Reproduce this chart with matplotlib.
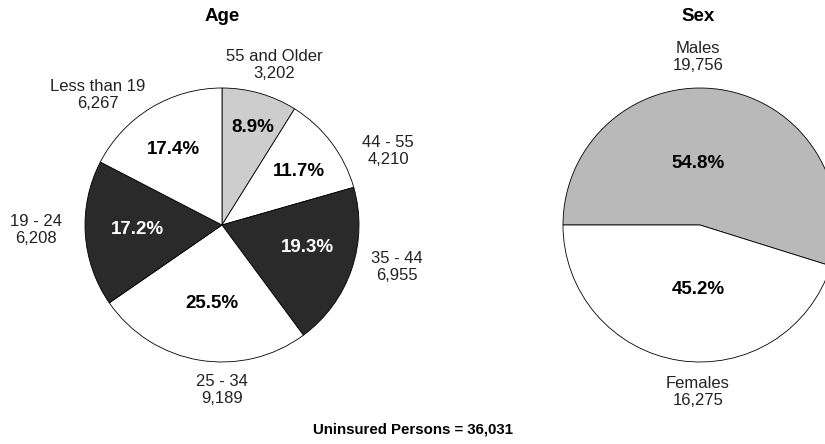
import matplotlib
matplotlib.use("Agg")
import matplotlib.pyplot as plt

plt.rcParams["font.family"] = ["Liberation Sans", "DejaVu Sans"]

W, H = 825, 444

age_groups = ["55 and Older", "44 - 55", "35 - 44", "25 - 34", "19 - 24", "Less than 19"]
age_counts = [3202, 4210, 6955, 9189, 6208, 6267]

sex_groups = ["Males", "Females"]
sex_counts = [19756, 16275]

total_uninsured = 36031

# layout (pixel positions, y measured from top)
AGE_CENTER = (222, 225)
SEX_CENTER = (700, 225)
RADIUS = 137

age_colors = ["#cdcdcd", "white", "#2a2a2a", "white", "#2a2a2a", "white"]
age_pct_colors = ["black", "black", "white", "black", "white", "black"]
age_label_pos = [(274, 65), (388, 151), (397, 267), (222, 390), (36, 230), (98, 95)]
age_pct_pos = [(253, 128), (299, 172), (307, 248), (212, 304), (137, 229), (173, 149)]

sex_colors = ["#b9b9b9", "white"]
sex_label_pos = [(698, 57), (698, 392)]
sex_pct_pos = [(698, 163), (698, 290)]


def px(x, y):
    return x, H - y


fig = plt.figure(figsize=(W / 100, H / 100), dpi=100)
ax = fig.add_axes([0, 0, 1, 1])

wedge_style = {"edgecolor": "black", "linewidth": 0.6}
ax.pie(age_counts, colors=age_colors, startangle=90, counterclock=False,
       center=px(*AGE_CENTER), radius=RADIUS, wedgeprops=wedge_style, frame=True)
ax.pie(sex_counts, colors=sex_colors, startangle=180, counterclock=False,
       center=px(*SEX_CENTER), radius=RADIUS, wedgeprops=wedge_style, frame=True)

ax.set_aspect("auto")
ax.set_xlim(0, W)
ax.set_ylim(0, H)
ax.axis("off")

label_kw = dict(ha="center", va="center", fontsize=12, linespacing=1.22, color="#222222")
pct_kw = dict(ha="center", va="center", fontsize=13.5, fontweight="bold")

age_total = sum(age_counts)
for name, n, lpos, ppos, pc in zip(age_groups, age_counts, age_label_pos,
                                   age_pct_pos, age_pct_colors):
    ax.text(*px(*lpos), f"{name}\n{n:,}", **label_kw)
    ax.text(*px(*ppos), f"{n / age_total * 100:.1f}%", color=pc, **pct_kw)

sex_total = sum(sex_counts)
for name, n, lpos, ppos in zip(sex_groups, sex_counts, sex_label_pos, sex_pct_pos):
    ax.text(*px(*lpos), f"{name}\n{n:,}", **label_kw)
    ax.text(*px(*ppos), f"{n / sex_total * 100:.1f}%", color="black", **pct_kw)

ax.text(*px(222, 17), "Age", ha="center", va="center", fontsize=13.5, fontweight="bold")
ax.text(*px(698, 17), "Sex", ha="center", va="center", fontsize=13.5, fontweight="bold")
ax.text(*px(413, 429), f"Uninsured Persons = {total_uninsured:,}",
        ha="center", va="center", fontsize=10.8, fontweight="bold")

fig.savefig("out.png", dpi=100)
